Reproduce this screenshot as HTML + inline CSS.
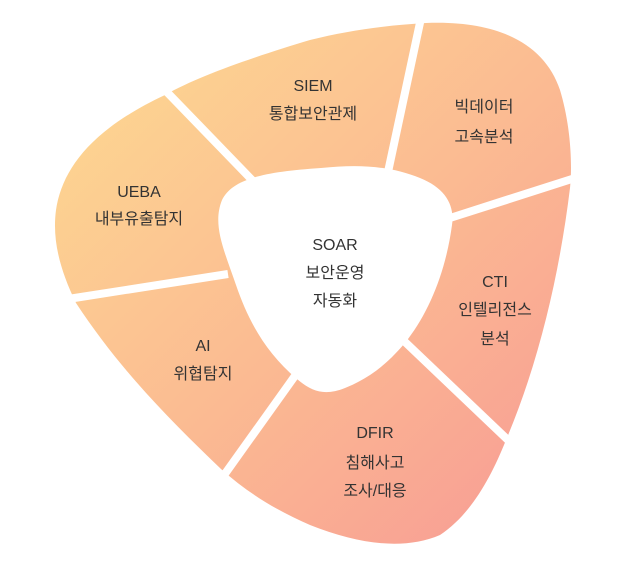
<!DOCTYPE html>
<html><head><meta charset="utf-8"><style>
html,body{margin:0;padding:0;background:#fff;}
svg{display:block;}
text{font-family:"Liberation Sans","Noto Sans CJK KR",sans-serif;font-size:16px;fill:#333;text-anchor:middle;}
</style></head><body>
<svg width="629" height="563" viewBox="0 0 629 563">
<defs>
<linearGradient id="g" x1="90" y1="90" x2="520" y2="530" gradientUnits="userSpaceOnUse">
<stop offset="0" stop-color="#fdd591"/>
<stop offset="0.5" stop-color="#fbbb92"/>
<stop offset="1" stop-color="#f89e94"/>
</linearGradient>
</defs>
<path fill="url(#g)" d="M426,23 C500,20 545,45 560,90 C572,130 572,170 570,188 C560,270 540,360 506,440 C490,480 470,515 440,535 C405,550 360,545 310,525 C280,512 250,495 221,469 C170,420 120,370 76,303 C60,270 52,240 56,210 C62,170 90,130 165,95 C200,75 260,55 310,40 C350,30 390,25 426,23 Z"/>
<path fill="#fff" d="M321,168 C360,164 390,166 420,178 C445,188 455,205 452,225 C446,270 430,310 408,339 C390,362 370,378 345,388 C325,396 312,392 297,379 C265,352 248,320 236,285 C224,250 212,225 222,200 C232,180 260,172 321,168 Z"/>
<g stroke="#fff" stroke-width="8" stroke-linecap="butt">
<line x1="388" y1="172" x2="421" y2="18"/>
<line x1="450" y1="218" x2="575" y2="178"/>
<line x1="404" y1="341" x2="510" y2="442"/>
<line x1="297" y1="373" x2="222" y2="478"/>
<line x1="228" y1="274" x2="68" y2="299"/>
<line x1="253" y1="181" x2="163" y2="88"/>
</g>
<text x="313" y="91">SIEM</text>
<text x="313" y="119">통합보안관제</text>
<text x="484" y="112">빅데이터</text>
<text x="484" y="142">고속분석</text>
<text x="139" y="197">UEBA</text>
<text x="139" y="224">내부유출탐지</text>
<text x="335" y="250">SOAR</text>
<text x="335" y="278">보안운영</text>
<text x="335" y="306">자동화</text>
<text x="495" y="287">CTI</text>
<text x="495" y="315">인텔리전스</text>
<text x="495" y="344">분석</text>
<text x="203" y="351">AI</text>
<text x="203" y="379">위협탐지</text>
<text x="375" y="438">DFIR</text>
<text x="375" y="468">침해사고</text>
<text x="375" y="496">조사/대응</text>
</svg>
</body></html>
